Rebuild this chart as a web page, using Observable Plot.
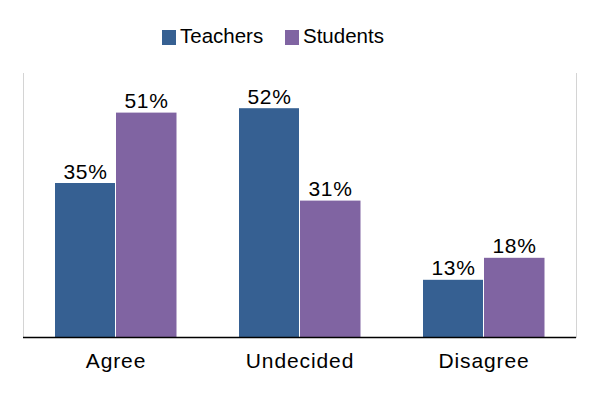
<!DOCTYPE html>
<html>
<head>
<meta charset="utf-8">
<script src="https://cdn.jsdelivr.net/npm/d3@7"></script>
<script src="https://cdn.jsdelivr.net/npm/@observablehq/plot@0.6"></script>
<style>
  html, body { margin: 0; padding: 0; background: #fff; }
  body { width: 600px; height: 398px; overflow: hidden; font-family: "Liberation Sans", Arial, sans-serif; }
  #legend { height: 60px; position: relative; }
  .item { position: absolute; top: 24px; display: flex; align-items: center; font-size: 20.5px; color: #000; line-height: 24px; }
  .sw { width: 14px; height: 15px; margin-right: 4px; margin-top: 2px; }
  svg { display: block; }
  #chart svg text { letter-spacing: 0.7px; }
  #chart svg g[aria-label="x-axis tick label"] text { letter-spacing: 0.9px; }
</style>
</head>
<body>
<div id="legend"></div>
<div id="chart"></div>
<script>
const categories = ["Agree", "Undecided", "Disagree"];
const seriesNames = ["Teachers", "Students"];
const teachers = [35, 52, 13];
const students = [51, 31, 18];
const colors = ["#366092", "#8064a2"];

const rows = [];
categories.forEach((c, i) => {
  rows.push({category: c, series: "Teachers", value: teachers[i]});
  rows.push({category: c, series: "Students", value: students[i]});
});
const tRows = rows.filter(d => d.series === "Teachers");
const sRows = rows.filter(d => d.series === "Students");

// legend
const legend = document.getElementById("legend");
const legendLeft = [162, 285];
seriesNames.forEach((s, i) => {
  const item = document.createElement("div");
  item.className = "item";
  item.style.left = legendLeft[i] + "px";
  const sw = document.createElement("span");
  sw.className = "sw";
  sw.style.background = colors[i];
  const t = document.createElement("span");
  t.textContent = s;
  item.appendChild(sw);
  item.appendChild(t);
  legend.appendChild(item);
});

const half = 61;
const chart = Plot.plot({
  width: 600,
  height: 338,
  marginTop: 13,
  marginBottom: 61,
  marginLeft: 23,
  marginRight: 24,
  style: {fontFamily: "Liberation Sans, Arial, sans-serif", fontSize: "21px", color: "#000", background: "#fff"},
  x: {domain: categories, paddingInner: 0.34, paddingOuter: 0.17, axis: null},
  y: {domain: [0, 60], axis: null},
  color: {domain: seriesNames, range: colors},
  marks: [
    Plot.frame({anchor: "left", stroke: "#d4d4d4"}),
    Plot.frame({anchor: "right", stroke: "#d4d4d4"}),
    Plot.barY(tRows, {x: "category", y: "value", fill: "series", insetRight: half}),
    Plot.barY(sRows, {x: "category", y: "value", fill: "series", insetLeft: half, insetRight: -0.5}),
    Plot.text(tRows, {x: "category", y: "value", text: d => d.value + "%", dx: -half / 2, dy: -5, lineAnchor: "bottom", fill: "#000", fontSize: 21}),
    Plot.text(sRows, {x: "category", y: "value", text: d => d.value + "%", dx: half / 2, dy: -5, lineAnchor: "bottom", fill: "#000", fontSize: 21}),
    Plot.axisX({tickSize: 0, tickPadding: 16, fontSize: 21, label: null, fill: "#000"}),
    Plot.ruleY([0], {stroke: "#000", strokeWidth: 1.5})
  ]
});
document.getElementById("chart").appendChild(chart);
</script>
</body>
</html>
